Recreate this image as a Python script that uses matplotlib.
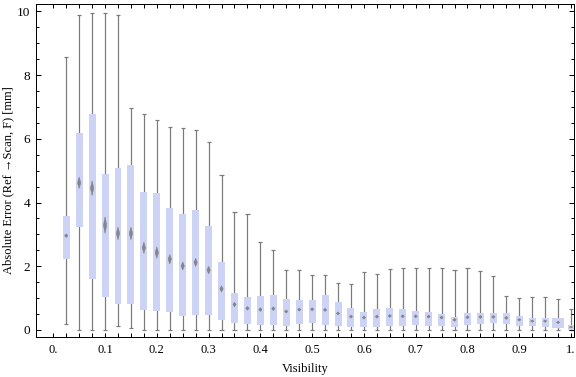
import numpy as np
import matplotlib
matplotlib.use("Agg")
import matplotlib.pyplot as plt
from matplotlib.patches import Polygon

plt.rcParams['font.family'] = ['Liberation Serif', 'DejaVu Serif']

# visibility bins (box centres)
vis = [0.025 * k for k in range(1, 41)]

w_lo = [0.18, 0, 0, 0, 0.12, 0.06, 0, 0, 0, 0,
        0, 0, 0, 0, 0, 0, 0, 0, 0, 0,
        0, 0, 0, 0, 0, 0, 0, 0, 0, 0,
        0, 0, 0, 0, 0, 0, 0, 0, 0, 0]
q1 = [2.24, 3.24, 1.59, 1.05, 0.80, 0.80, 0.63, 0.60, 0.57, 0.45,
      0.47, 0.47, 0.31, 0.23, 0.19, 0.17, 0.17, 0.14, 0.20, 0.23,
      0.17, 0.14, 0.10, 0.10, 0.10, 0.14, 0.14, 0.17, 0.14, 0.14,
      0.10, 0.17, 0.20, 0.23, 0.20, 0.14, 0.14, 0.10, 0.07, 0.00]
med = [2.96, 4.62, 4.45, 3.29, 3.03, 3.03, 2.58, 2.43, 2.22, 2.01,
       2.12, 1.88, 1.29, 0.80, 0.68, 0.64, 0.67, 0.58, 0.64, 0.65,
       0.63, 0.52, 0.42, 0.39, 0.42, 0.44, 0.43, 0.43, 0.42, 0.39,
       0.32, 0.40, 0.41, 0.41, 0.38, 0.32, 0.28, 0.28, 0.24, 0.09]
q3 = [3.58, 6.17, 6.78, 4.90, 5.08, 5.19, 4.33, 4.30, 3.83, 3.64,
      3.77, 3.26, 2.13, 1.15, 1.03, 1.06, 1.09, 0.97, 0.94, 0.94,
      1.09, 0.87, 0.69, 0.56, 0.66, 0.69, 0.66, 0.60, 0.56, 0.50,
      0.42, 0.53, 0.53, 0.53, 0.53, 0.44, 0.38, 0.38, 0.38, 0.16]
w_hi = [8.56, 9.87, 9.94, 9.94, 9.90, 6.96, 6.77, 6.58, 6.36, 6.33,
        6.27, 5.89, 4.85, 3.71, 3.63, 2.77, 2.52, 1.89, 1.89, 1.71,
        1.71, 1.48, 1.45, 1.81, 1.77, 1.90, 1.93, 1.93, 1.93, 1.93,
        1.87, 1.93, 1.84, 1.68, 1.06, 0.99, 1.03, 1.03, 0.96, 0.65]
# half height of the median confidence notch
notch = [0.06, 0.18, 0.23, 0.26, 0.20, 0.20, 0.18, 0.18, 0.15, 0.13,
         0.13, 0.12, 0.10, 0.07, 0.06, 0.06, 0.06, 0.05, 0.05, 0.05,
         0.05, 0.05, 0.05, 0.05, 0.05, 0.05, 0.05, 0.05, 0.05, 0.05,
         0.05, 0.05, 0.05, 0.05, 0.05, 0.04, 0.04, 0.04, 0.04, 0.03]

x_labels = ['0.', '0.1', '0.2', '0.3', '0.4', '0.5', '0.6', '0.7', '0.8', '0.9', '1.']

box_c = '#cdd3f4'
grey = '#7a7a7a'
px = 0.72  # one pixel in points

fig = plt.figure(figsize=(5.76, 3.77), dpi=100)
ax = fig.add_axes([36 / 576, 40 / 377, 538 / 576, 333 / 377])

x = np.array(vis)
widths = np.full(len(x), 0.0135)
widths[38] = 0.022

ax.vlines(x, w_lo, w_hi, color=grey, lw=1.2 * px, zorder=1)
ax.hlines(w_lo, x - 0.004, x + 0.004, color=grey, lw=1.2 * px, zorder=1)
ax.hlines(w_hi, x - 0.004, x + 0.004, color=grey, lw=1.2 * px, zorder=1)
ax.bar(x, np.array(q3) - np.array(q1), bottom=q1, width=widths,
       color=box_c, zorder=2)
for xi, m, n in zip(x, med, notch):
    d = 0.0032
    ax.add_patch(Polygon([[xi - d, m], [xi, m + n], [xi + d, m], [xi, m - n]],
                         closed=True, facecolor=grey, edgecolor=grey,
                         lw=0.5 * px, alpha=0.85, zorder=3))

ax.set_xlim(-0.0334, 1.0058)
ax.set_ylim(-0.22, 10.23)

ticks = [0.025 * k for k in range(41)]
ax.set_xticks(ticks)
ax.set_xticklabels([x_labels[k // 4] if k % 4 == 0 else '' for k in range(41)],
                   fontsize=9)
ax.set_yticks([0, 2, 4, 6, 8, 10])
ax.set_yticks(np.arange(0, 10.01, 0.5), minor=True)
ax.tick_params(axis='both', which='both', direction='in', top=True, right=True,
               width=1 * px, color='black')
ax.tick_params(axis='x', which='major', length=4 * px, pad=5)
ax.tick_params(axis='y', which='major', length=4.7 * px, labelsize=9.5, pad=4)
ax.tick_params(axis='y', which='minor', length=3.3 * px)
for s in ax.spines.values():
    s.set_linewidth(1 * px)

ax.set_xlabel('Visibility', fontsize=9, labelpad=5)
ax.set_ylabel('Absolute Error (Ref \u2192Scan, F) [mm]', fontsize=9,
              va='center')
ax.yaxis.set_label_coords(-0.052, 0.47)

fig.savefig('out.png', dpi=100)
